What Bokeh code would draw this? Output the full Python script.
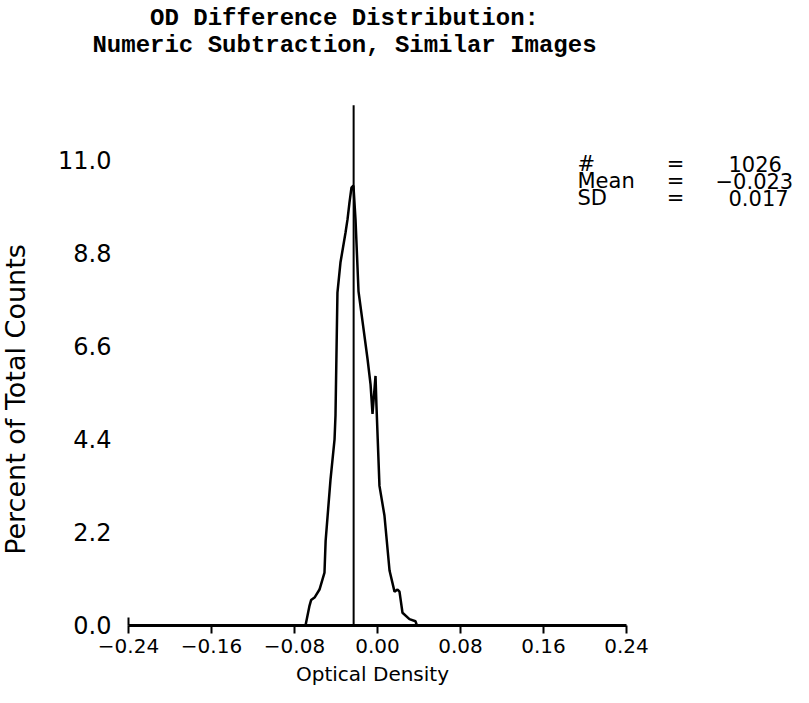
import numpy as np
from bokeh.plotting import figure
from bokeh.models import FixedTicker, Label, Range1d
from bokeh.embed import file_html
from bokeh.resources import INLINE

# ---- data ----
od = [-0.0694, -0.0655, -0.0640, -0.0607, -0.0559, -0.0511, -0.0500, -0.0453,
      -0.0414, -0.0405, -0.0386, -0.0357, -0.0308, -0.0289, -0.0270, -0.0251,
      -0.0232, -0.0212, -0.0183, -0.0145, -0.0096, -0.0067, -0.0048, -0.0019,
      -0.0010, 0.0019, 0.0067, 0.0116, 0.0164, 0.0193, 0.0212, 0.0241,
      0.0308, 0.0366, 0.0380]
pct = [0.0, 0.47, 0.60, 0.66, 0.85, 1.25, 2.0, 3.45,
       4.4, 4.96, 7.87, 8.58, 9.29, 9.6, 10.0, 10.35,
       10.4, 9.6, 7.9, 7.2, 6.3, 5.7, 5.0, 5.9,
       5.2, 3.3, 2.6, 1.3, 0.8, 0.85, 0.8, 0.3,
       0.15, 0.1, 0.0]
mean_od = -0.023
mean_top = 12.3
x_ticks = [-0.24, -0.16, -0.08, 0.0, 0.08, 0.16, 0.24]
x_tick_labels = ["\u22120.24", "\u22120.16", "\u22120.08", "0.00", "0.08", "0.16", "0.24"]
y_ticks = [0.0, 2.2, 4.4, 6.6, 8.8, 11.0]
y_tick_labels = ["0.0", "2.2", "4.4", "6.6", "8.8", "11.0"]
stat_names = ["#", "Mean", "SD"]
stat_values = ["1026", "\u22120.023", "0.017"]
title_lines = ["OD Difference Distribution:", "Numeric Subtraction, Similar Images"]
x_title = "Optical Density"
y_title = "Percent of Total Counts"

SANS = "DejaVu Sans"
MONO = "Liberation Mono"
W, H = 793, 687

# frame covers the whole canvas; axes are fixed at x=-0.24 / y=0
p = figure(width=W, height=H, output_backend="svg", toolbar_location=None,
           x_range=Range1d(-0.3634, 0.4010), y_range=Range1d(-1.466, 14.775),
           min_border=0)
p.outline_line_color = None
p.grid.grid_line_color = None

xa = p.xaxis[0]
xa.fixed_location = 0
xa.bounds = (-0.24, 0.24)
xa.ticker = FixedTicker(ticks=x_ticks)
xa.major_label_overrides = {t: l for t, l in zip(x_ticks, x_tick_labels)}
xa.minor_tick_line_color = None
xa.major_tick_in = 0
xa.major_tick_out = 8
xa.major_tick_line_width = 2
xa.axis_line_width = 3
xa.major_label_text_font = SANS
xa.major_label_text_font_size = "20px"
xa.major_label_text_color = "black"
xa.major_label_standoff = 6

ya = p.yaxis[0]
ya.fixed_location = -0.24
ya.bounds = (0, 0.2)
ya.ticker = FixedTicker(ticks=y_ticks)
ya.major_label_overrides = {t: l for t, l in zip(y_ticks, y_tick_labels)}
ya.axis_line_width = 2
ya.major_tick_line_color = None
ya.minor_tick_line_color = None
ya.major_label_text_font = SANS
ya.major_label_text_font_size = "24px"
ya.major_label_text_color = "black"
ya.major_label_standoff = 11

# curve and mean line
p.line(od, pct, line_color="black", line_width=2.5)
p.segment(x0=[mean_od], y0=[0], x1=[mean_od], y1=[mean_top], line_color="black", line_width=2)


def sx(ix):
    return ix - 8


def sy(iy):
    return H + 8 - iy


def lab(text, ix, iy, size, font=SANS, align="left", angle=0.0, style="normal"):
    p.add_layout(Label(x=sx(ix), y=sy(iy), x_units="screen", y_units="screen", text=text,
                       angle=angle, text_align=align, text_baseline="middle",
                       text_font=font, text_font_size=size, text_font_style=style,
                       text_color="black"))


# titles
lab(title_lines[0], 352, 26, "24px", font=MONO, align="center", style="bold")
lab(title_lines[1], 352, 53, "24px", font=MONO, align="center", style="bold")

# axis titles
lab(y_title, 23, 407, "27px", align="center", angle=np.pi / 2)
lab(x_title, 380, 681, "20px", align="center")

# statistics block
rows = [171, 188, 205]
for name, val, iy in zip(stat_names, stat_values, rows):
    lab(name, 585, iy, "21px")
    lab("=", 683, iy, "21px", align="center")
    if val.startswith("\u2212"):
        lab(val, 723, iy, "21px")
    else:
        lab(val, 736, iy, "21px")

open("out.html", "w").write(file_html(p, INLINE))
